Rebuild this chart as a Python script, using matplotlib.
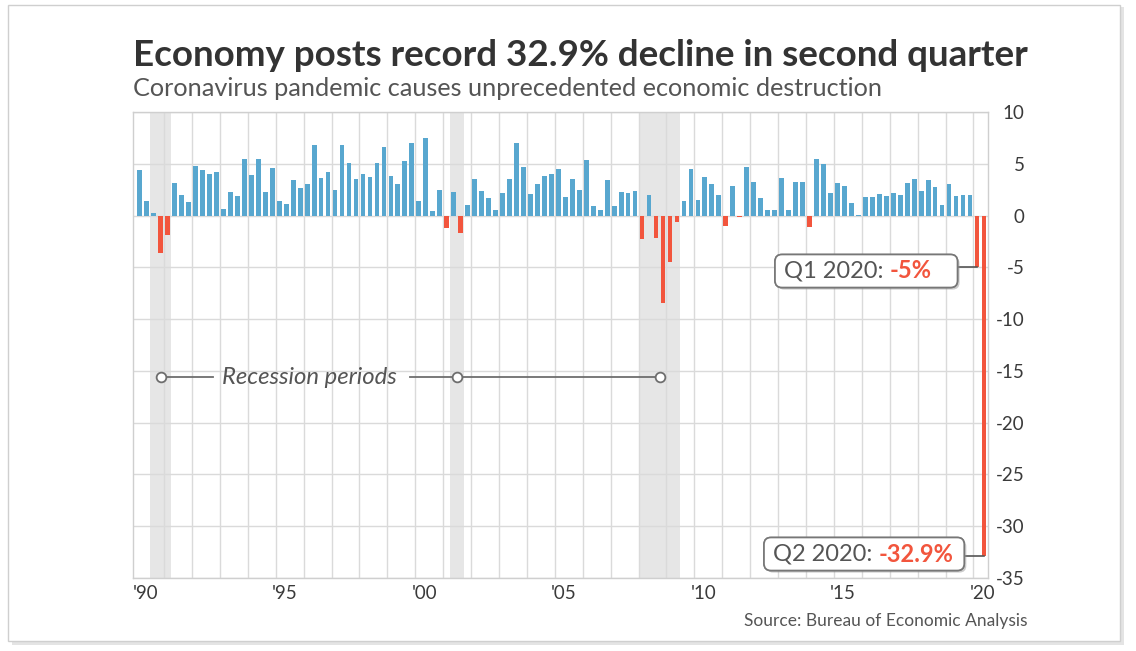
import matplotlib
matplotlib.use("Agg")
import matplotlib.pyplot as plt
import matplotlib.patheffects as pe
from matplotlib.patches import Rectangle, FancyBboxPatch
from matplotlib.transforms import IdentityTransform

plt.rcParams['font.family'] = ['Lato', 'DejaVu Sans']

# quarterly real GDP growth, annualized %, 1990 Q1 .. 2020 Q2
gdp = [
    4.4, 1.4, 0.2, -3.6,    # 1990
    -1.9, 3.1, 2.0, 1.3,    # 1991
    4.8, 4.4, 4.0, 4.2,     # 1992
    0.6, 2.3, 1.9, 5.5,     # 1993
    3.9, 5.5, 2.3, 4.6,     # 1994
    1.4, 1.1, 3.4, 2.7,     # 1995
    3.0, 6.8, 3.6, 4.2,     # 1996
    2.5, 6.8, 5.1, 3.5,     # 1997
    4.0, 3.7, 5.1, 6.6,     # 1998
    3.8, 3.0, 5.3, 7.0,     # 1999
    1.4, 7.5, 0.4, 2.5,     # 2000
    -1.2, 2.3, -1.7, 1.0,   # 2001
    3.5, 2.4, 1.7, 0.5,     # 2002
    2.2, 3.5, 7.0, 4.7,     # 2003
    2.1, 3.0, 3.8, 4.0,     # 2004
    4.5, 1.8, 3.5, 2.5,     # 2005
    5.4, 0.9, 0.5, 3.4,     # 2006
    0.9, 2.3, 2.2, 2.4,     # 2007
    -2.3, 2.0, -2.2, -8.4,  # 2008
    -4.5, -0.6, 1.4, 4.5,   # 2009
    1.5, 3.7, 3.0, 2.0,     # 2010
    -1.0, 2.9, -0.1, 4.7,   # 2011
    3.2, 1.7, 0.5, 0.5,     # 2012
    3.6, 0.5, 3.2, 3.2,     # 2013
    -1.1, 5.5, 5.0, 2.2,    # 2014
    3.1, 2.9, 1.2, 0.1,     # 2015
    1.8, 1.8, 2.1, 1.9,     # 2016
    2.2, 2.0, 3.1, 3.5,     # 2017
    2.4, 3.4, 2.8, 1.0,     # 2018
    3.0, 1.9, 2.0, 2.0,     # 2019
    -5.0, -32.9,            # 2020
]
start_year = 1990
quarter_x = [start_year + i * 0.25 + 0.125 for i in range(len(gdp))]

# recession periods (start, end) in decimal years
recessions = [(1990.5, 1991.25), (2001.25, 2001.75), (2008.0, 2009.5)]

year_ticks = [1990, 1995, 2000, 2005, 2010, 2015, 2020]
year_labels = ["'90", "'95", "'00", "'05", "'10", "'15", "'20"]
y_ticks = [10, 5, 0, -5, -10, -15, -20, -25, -30, -35]

blue = '#58A7CF'
red = '#F2553D'
grid_c = '#DADADA'
text_c = '#3A3A3A'

W, H = 1136, 651
fig = plt.figure(figsize=(W / 100, H / 100), dpi=100)

# card frame with shadow
fig.patches.append(Rectangle((12 / W, 1 - 645 / H), 1112 / W, 638 / H,
                             transform=fig.transFigure, fc='#E4E4E4', ec='none', zorder=-3))
fig.patches.append(Rectangle((8 / W, 1 - 641 / H), 1112 / W, 636 / H,
                             transform=fig.transFigure, fc='white', ec='#CFCFCF', lw=1, zorder=-2))

ax = fig.add_axes([133 / W, 1 - 578 / H, 855 / W, 466 / H])

for a, b in recessions:
    ax.axvspan(a, b, color='#E6E6E6', lw=0, zorder=0)

colors = [blue if v >= 0 else red for v in gdp]
ax.bar(quarter_x, gdp, width=0.17, color=colors, zorder=3)

ax.set_xlim(1989.885, 2020.52)
ax.set_ylim(-35, 10)

# yearly vertical grid, 5-pt horizontal grid
ax.set_xticks(range(1991, 2021), minor=True)
ax.set_xticks([y + 0.33 for y in year_ticks])
ax.set_xticklabels(year_labels)
ax.set_yticks(y_ticks)
ax.set_yticklabels([str(t) for t in y_ticks])
ax.grid(True, which='minor', axis='x', color=grid_c, lw=1, zorder=1)
ax.grid(True, which='major', axis='y', color=grid_c, lw=1, zorder=1)
ax.set_axisbelow(True)

ax.yaxis.tick_right()
ax.tick_params(axis='y', length=0, pad=26.5, labelsize=13.5, labelcolor=text_c)
for lbl in ax.get_yticklabels():
    lbl.set_ha('right')
ax.tick_params(axis='x', which='both', length=0, pad=5, labelsize=13.5, labelcolor=text_c)
for s in ax.spines.values():
    s.set_color('#CFCFCF')
    s.set_linewidth(1)

# recession label line
rec_y = -15.6
mids = [(a + b) / 2 for a, b in recessions]
ax.plot([mids[0], 1992.75], [rec_y, rec_y], color='#6E6E6E', lw=1.3, zorder=4)
ax.plot([1999.8, mids[2]], [rec_y, rec_y], color='#6E6E6E', lw=1.3, zorder=4)
ax.plot(mids, [rec_y] * 3, 'o', ms=7, mfc='white', mec='#6E6E6E', mew=1.3, zorder=5)
ax.text(1996.2, rec_y, 'Recession periods', style='italic', fontsize=17.2,
        color='#555555', ha='center', va='center', zorder=5)

fig.text(133 / W, 1 - 56 / H, 'Economy posts record 32.9% decline in second quarter',
         fontsize=26.5, fontweight='bold', color='#333333', ha='left', va='center')
fig.text(133 / W, 1 - 88 / H, 'Coronavirus pandemic causes unprecedented economic destruction',
         fontsize=18.2, color='#555555', ha='left', va='center')
fig.text(1028 / W, 1 - 621 / H, 'Source: Bureau of Economic Analysis',
         fontsize=12.5, color='#555555', ha='right', va='center')


def value_str(v):
    return '%g%%' % v


# callouts: gray label + red bold value inside a rounded box, joined to the bar
def callout(label, value, qx, left_px, mid_px, right_pad):
    tg = fig.text(left_px / W, 1 - mid_px / H, label, fontsize=17, color='#555555',
                  ha='left', va='center_baseline', zorder=8)
    fig.canvas.draw()
    bg = tg.get_window_extent()
    tr = fig.text(bg.x1 / W, 1 - mid_px / H, value_str(value), fontsize=17,
                  fontweight='bold', color=red, ha='left', va='center_baseline', zorder=8)
    fig.canvas.draw()
    br = tr.get_window_extent()
    x0, x1 = bg.x0 - 9, br.x1 + right_pad
    y0, y1 = min(bg.y0, br.y0) - 5, max(bg.y1, br.y1) + 5
    box = FancyBboxPatch((x0, y0), x1 - x0, y1 - y0, boxstyle='round,pad=0,rounding_size=7',
                         transform=IdentityTransform(), fc='white', ec='#777777', lw=1.2,
                         zorder=7)
    box.set_path_effects([pe.withSimplePatchShadow(offset=(1.5, -1.5), shadow_rgbFace='#999999',
                                                   alpha=0.5), pe.Normal()])
    fig.patches.append(box)
    _, by = ax.transData.transform((qx, value))
    ax.plot([ax.transData.inverted().transform((x1, by))[0], qx], [value, value],
            color='#555555', lw=1.2, zorder=6, clip_on=False)


callout('Q1 2020: ', gdp[-2], quarter_x[-2], 784, 269, 26)
callout('Q2 2020: ', gdp[-1], quarter_x[-1], 773, 552, 11)

fig.savefig('out.png', dpi=100)
